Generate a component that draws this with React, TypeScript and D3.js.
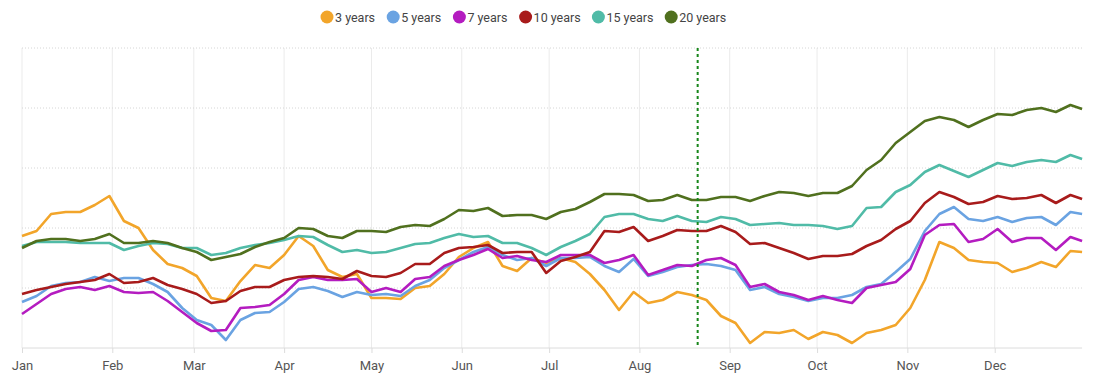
import * as d3 from 'd3';
import React, { useRef, useEffect } from 'react';

const width = 1104;
const height = 387;

// one point every 5 days through 2023, plus Dec 31
const startDate = new Date(2023, 0, 1);
const dayOffsets = [...d3.range(0, 365, 5), 364];
const dates = dayOffsets.map(d => d3.timeDay.offset(startDate, d));
const markerDate = new Date(2023, 7, 21);

const years3 = [1.12,1.17,1.34,1.36,1.36,1.43,1.52,1.27,1.20,0.98, 0.84,0.80,0.72,0.50,0.47,0.67,0.83,0.80,0.93,1.12, 1.02,0.78,0.71,0.74,0.50,0.50,0.49,0.60,0.62,0.74, 0.91,1.00,1.06,0.82,0.77,0.90,0.85,0.90,0.86,0.74, 0.58,0.38,0.56,0.45,0.48,0.56,0.53,0.48,0.32,0.25, 0.05,0.16,0.15,0.18,0.09,0.16,0.13,0.05,0.15,0.18, 0.23,0.40,0.68,1.06,1.00,0.88,0.86,0.85,0.76,0.80, 0.86,0.81,0.97,0.96];
const years5 = [0.46,0.52,0.62,0.65,0.66,0.71,0.67,0.70,0.70,0.64, 0.56,0.40,0.28,0.23,0.08,0.28,0.35,0.36,0.46,0.59, 0.61,0.57,0.51,0.56,0.53,0.54,0.52,0.62,0.68,0.80, 0.88,0.96,1.01,0.93,0.88,0.90,0.82,0.90,0.90,0.91, 0.82,0.76,0.89,0.72,0.76,0.81,0.83,0.84,0.82,0.78, 0.58,0.61,0.54,0.51,0.47,0.50,0.50,0.53,0.61,0.64, 0.76,0.89,1.17,1.34,1.41,1.29,1.27,1.31,1.26,1.30, 1.31,1.23,1.36,1.34];
const years7 = [0.34,0.44,0.54,0.59,0.61,0.58,0.62,0.56,0.55,0.56, 0.47,0.36,0.25,0.17,0.18,0.40,0.41,0.43,0.54,0.68, 0.71,0.68,0.68,0.69,0.56,0.60,0.56,0.69,0.71,0.82, 0.88,0.93,0.99,0.90,0.92,0.88,0.86,0.93,0.93,0.93, 0.85,0.88,0.93,0.73,0.78,0.83,0.82,0.88,0.90,0.83, 0.61,0.64,0.56,0.53,0.48,0.52,0.48,0.45,0.60,0.63, 0.66,0.79,1.13,1.23,1.24,1.06,1.09,1.19,1.06,1.10, 1.10,0.98,1.11,1.07];
const years10 = [0.54,0.58,0.61,0.64,0.66,0.68,0.74,0.65,0.66,0.70, 0.63,0.59,0.54,0.45,0.47,0.57,0.61,0.61,0.68,0.71, 0.72,0.71,0.69,0.77,0.72,0.71,0.75,0.84,0.84,0.95, 1.00,1.01,1.03,0.95,0.96,0.96,0.75,0.87,0.91,0.96, 1.17,1.16,1.21,1.07,1.12,1.18,1.17,1.17,1.22,1.16, 1.04,1.05,1.00,0.95,0.89,0.92,0.92,0.94,1.02,1.08, 1.19,1.27,1.45,1.56,1.51,1.44,1.46,1.52,1.49,1.50, 1.53,1.45,1.53,1.49];
const years15 = [1.02,1.06,1.06,1.06,1.05,1.05,1.05,0.98,1.02,1.05, 1.04,1.00,1.00,0.93,0.95,1.00,1.03,1.05,1.08,1.12, 1.11,1.03,0.96,0.98,0.95,0.96,1.00,1.04,1.05,1.10, 1.14,1.11,1.12,1.05,1.05,1.00,0.93,1.01,1.07,1.14, 1.31,1.34,1.34,1.29,1.27,1.32,1.27,1.26,1.31,1.29, 1.23,1.24,1.25,1.23,1.23,1.22,1.19,1.22,1.40,1.41, 1.56,1.63,1.76,1.83,1.77,1.71,1.78,1.85,1.82,1.86, 1.88,1.86,1.93,1.89];
const years20 = [1.00,1.07,1.09,1.09,1.07,1.09,1.14,1.05,1.05,1.07, 1.05,1.00,0.96,0.88,0.91,0.94,1.01,1.06,1.10,1.20, 1.19,1.12,1.10,1.17,1.17,1.16,1.21,1.23,1.22,1.29, 1.38,1.37,1.40,1.32,1.33,1.33,1.29,1.36,1.39,1.46, 1.54,1.54,1.53,1.47,1.48,1.53,1.48,1.48,1.51,1.51, 1.47,1.52,1.56,1.55,1.52,1.55,1.55,1.62,1.78,1.88, 2.05,2.16,2.27,2.31,2.28,2.21,2.28,2.34,2.33,2.38, 2.40,2.36,2.43,2.39];

const seriesNames = ['3 years', '5 years', '7 years', '10 years', '15 years', '20 years'];
const seriesColors = ['#F2A52A', '#6AA3E2', '#B41CC0', '#A81B1B', '#50BBA7', '#50701E'];
const seriesValues = [years3, years5, years7, years10, years15, years20];
const gridValues = [0.6, 1.2, 1.8, 2.4, 3.0];

function App() {
    const ref = useRef();

    useEffect(() => {
        const svg = d3.select(ref.current);
        svg.selectAll('*').remove();

        const x = d3.scaleTime()
            .domain([new Date(2023, 0, 1), new Date(2024, 0, 1)])
            .range([22, 1085]);
        const y = d3.scaleLinear()
            .domain([0, 3])
            .range([348, 48]);
        const xEnd = x(new Date(2023, 11, 31));
        const months = d3.timeMonth.range(new Date(2023, 0, 1), new Date(2024, 0, 1));

        // vertical month grid
        svg.append('g')
            .selectAll('line')
            .data(months)
            .join('line')
            .attr('x1', d => x(d)).attr('x2', d => x(d))
            .attr('y1', y(3)).attr('y2', y(0))
            .attr('stroke', '#ebebeb')
            .attr('stroke-width', 1);

        // horizontal dotted grid
        svg.append('g')
            .selectAll('line')
            .data(gridValues)
            .join('line')
            .attr('x1', x(new Date(2023, 0, 1))).attr('x2', xEnd)
            .attr('y1', d => y(d)).attr('y2', d => y(d))
            .attr('stroke', '#d6d6d6')
            .attr('stroke-dasharray', '1,2');

        // x axis
        const axis = svg.append('g')
            .attr('transform', `translate(0, ${y(0)})`)
            .call(d3.axisBottom(x)
                .tickValues(months)
                .tickFormat(d3.timeFormat('%b'))
                .tickSize(5)
                .tickSizeOuter(0));
        axis.select('.domain').attr('stroke', '#dcdcdc').attr('d', `M${x(new Date(2023, 0, 1))},0H${xEnd}`);
        axis.selectAll('.tick line').attr('stroke', '#dcdcdc');
        axis.selectAll('.tick text')
            .attr('fill', '#555')
            .attr('font-family', 'Roboto, sans-serif')
            .attr('font-size', 13)
            .attr('dy', '1.05em');

        // lines
        const line = d3.line()
            .x((d, i) => x(dates[i]))
            .y(d => y(d));

        svg.append('g')
            .selectAll('path')
            .data(seriesValues)
            .join('path')
            .attr('d', d => line(d))
            .attr('fill', 'none')
            .attr('stroke', (d, i) => seriesColors[i])
            .attr('stroke-width', 2.6)
            .attr('stroke-linejoin', 'round');

        // marker
        svg.append('line')
            .attr('x1', x(markerDate)).attr('x2', x(markerDate))
            .attr('y1', y(3)).attr('y2', y(0))
            .attr('stroke', '#17861a')
            .attr('stroke-width', 2)
            .attr('stroke-dasharray', '3,3');

        // legend
        const legend = svg.append('g').attr('transform', 'translate(327, 17)');
        let offset = 0;
        seriesNames.forEach((name, i) => {
            const g = legend.append('g').attr('transform', `translate(${offset}, 0)`);
            g.append('circle').attr('r', 6.5).attr('fill', seriesColors[i]);
            g.append('text')
                .attr('x', 8)
                .attr('y', 4.5)
                .attr('fill', '#444')
                .attr('font-family', 'Roboto, sans-serif')
                .attr('font-size', 12.5)
                .text(name);
            offset += 20 + name.length * 6.6;
        });
    }, []);

    return (
        <div style={{ position: 'absolute', left: 0, top: 0 }}>
            <svg ref={ref} width={width} height={height} style={{ display: 'block', background: '#fff' }}>
            </svg>
        </div>
    );
}

export default App;
